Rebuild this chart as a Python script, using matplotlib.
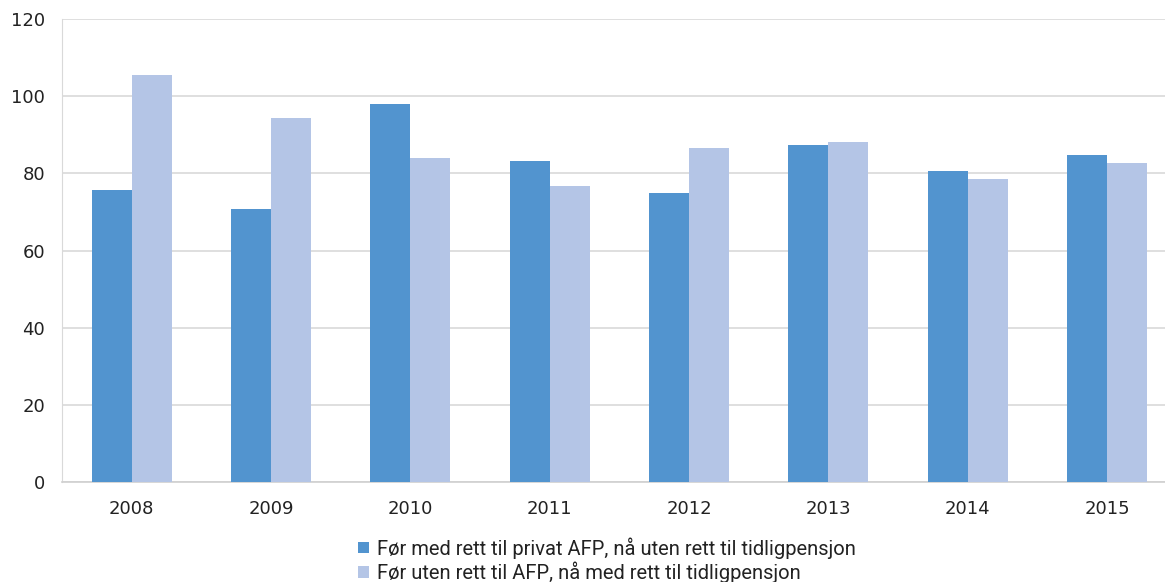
import numpy as np
import matplotlib.pyplot as plt

years = ['2008', '2009', '2010', '2011', '2012', '2013', '2014', '2015']
med_afp = [75.7, 70.8, 98.0, 83.2, 74.9, 87.4, 80.6, 84.7]
uten_afp = [105.5, 94.3, 84.0, 76.8, 86.6, 88.1, 78.5, 82.6]
labels = ['Før med rett til privat AFP, nå uten rett til tidligpensjon',
          'Før uten rett til AFP, nå med rett til tidligpensjon']

dark = '#5294cf'
light = '#b4c5e6'

fig = plt.figure(figsize=(11.65, 5.82), dpi=100)
ax = fig.add_axes([0.0532, 0.1718, 0.957, 0.7955])

x = np.arange(len(years))
w = 0.287
ax.bar(x - w / 2, med_afp, w, color=dark, label=labels[0], zorder=3)
ax.bar(x + w / 2, uten_afp, w, color=light, label=labels[1], zorder=3)

ax.set_xlim(-0.5, len(years) - 0.5)
ax.set_ylim(0, 120)
ax.set_yticks(range(0, 121, 20))
ax.set_xticks(x)
ax.set_xticklabels(years)
ax.tick_params(length=0, labelsize=13, colors='#222222')
ax.tick_params(axis='x', pad=13)
ax.tick_params(axis='y', pad=12)
ax.grid(axis='y', color='#d9d9d9', linewidth=1.2, zorder=0)
for s in ['top', 'right']:
    ax.spines[s].set_visible(False)
ax.spines['left'].set_color('#d9d9d9')
ax.spines['bottom'].set_color('#d0d0d0')
ax.spines['bottom'].set_linewidth(1.2)

leg = fig.legend(loc='lower center', bbox_to_anchor=(0.521, -0.033), ncol=1,
                 frameon=False, prop={'family': 'Roboto', 'size': 14.5},
                 handlelength=0.5, handleheight=0.5, handletextpad=0.4,
                 labelspacing=0.15)
for t in leg.get_texts():
    t.set_color('#222222')

fig.savefig('out.png', dpi=100)
